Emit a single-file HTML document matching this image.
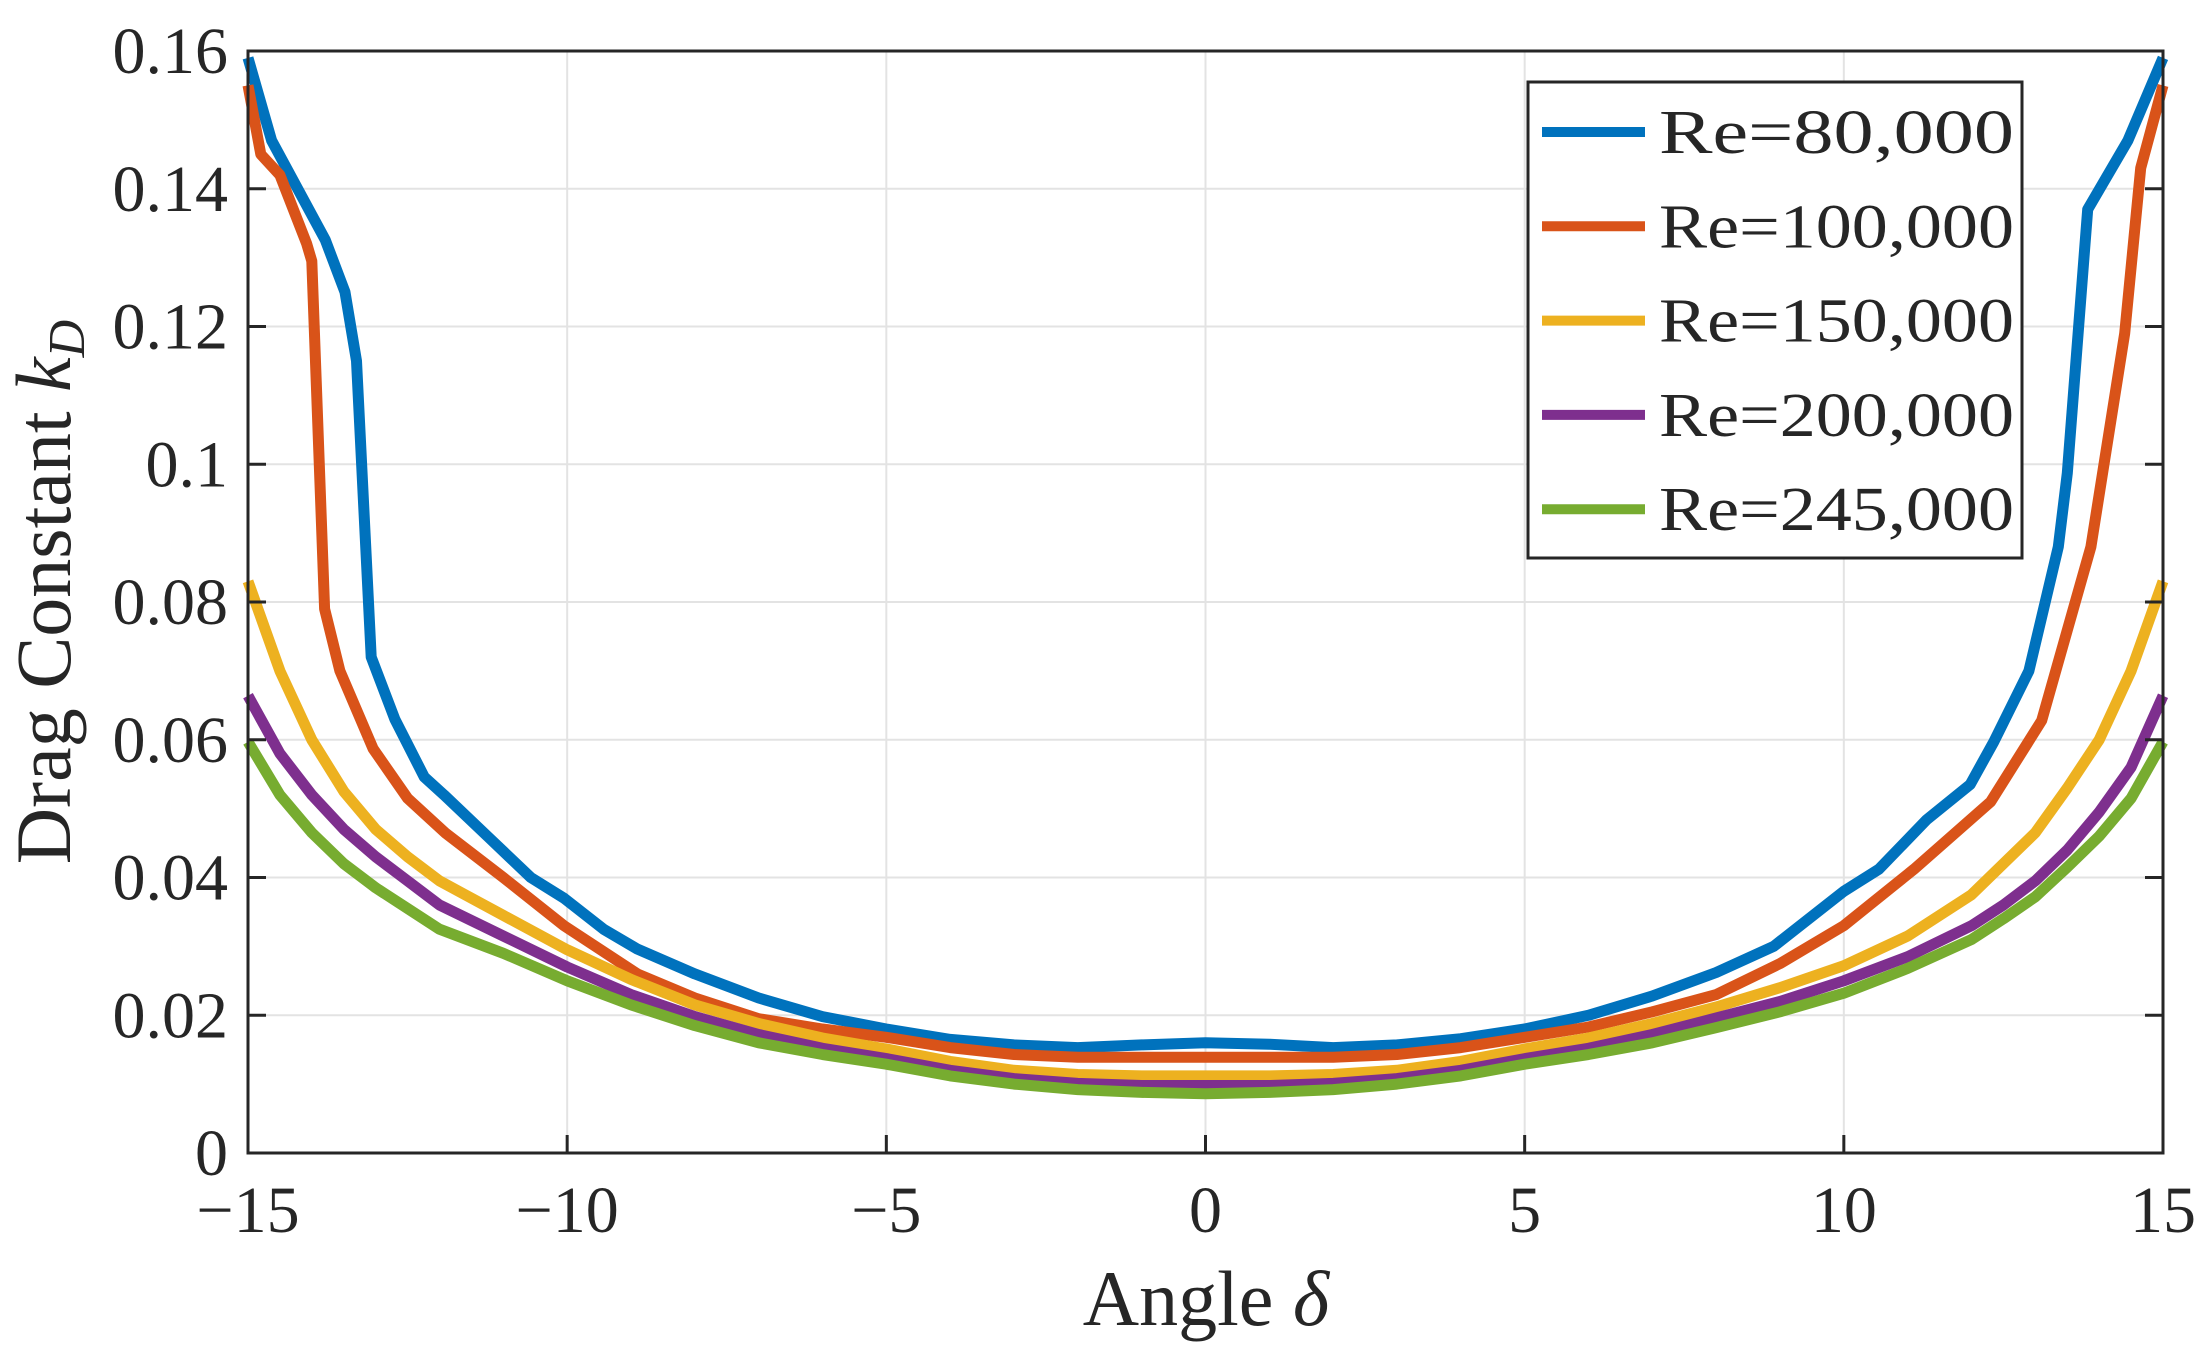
<!DOCTYPE html>
<html><head><meta charset="utf-8"><style>
html,body{margin:0;padding:0;background:#fff;}
svg{display:block;font-family:"Liberation Serif",serif;}
</style></head><body>
<svg id="chart" width="2205" height="1355" viewBox="0 0 2205 1355" xmlns="http://www.w3.org/2000/svg">
<rect width="2205" height="1355" fill="#fff"/>
<g id="grid"></g>
<g id="series"></g>
<g id="axes"></g>
<g id="legend"></g>
<text x="1206" y="1325" font-size="78" text-anchor="middle" fill="#262626">Angle <tspan font-style="italic">δ</tspan></text>
<text transform="translate(70,592) rotate(-90)" font-size="78" text-anchor="middle" fill="#262626">Drag Constant <tspan font-style="italic">k</tspan><tspan font-style="italic" font-size="52" dy="14">D</tspan></text>
</svg>
<script>
const xTicks=[-15,-10,-5,0,5,10,15];
const xTickLabels=["\u221215","\u221210","\u22125","0","5","10","15"];
const yTicks=[0,0.02,0.04,0.06,0.08,0.1,0.12,0.14,0.16];
const yTickLabels=["0","0.02","0.04","0.06","0.08","0.1","0.12","0.14","0.16"];
const seriesNames=["Re=80,000","Re=100,000","Re=150,000","Re=200,000","Re=245,000"];
const colors=["#0072BD","#D95319","#EDB120","#7E2F8E","#77AC30"];
const x80=[-15,-14.63,-13.79,-13.48,-13.3,-13.07,-12.7,-12.24,-11.93,-11.25,-10.57,-10.05,-9.43,-8.9,-8,-7,-6,-5,-4,-3,-2,-1,0,1,2,3,4,5,6,7,8,8.9,10,10.55,11.3,11.98,12.35,12.9,13.36,13.5,13.82,14.45,15];
const y80=[0.159,0.147,0.1326,0.125,0.115,0.072,0.063,0.0546,0.052,0.046,0.040,0.037,0.0325,0.0296,0.026,0.0225,0.0198,0.018,0.0165,0.0157,0.0153,0.0157,0.016,0.0158,0.0153,0.0157,0.0166,0.0180,0.0200,0.0228,0.0262,0.0300,0.038,0.0412,0.0484,0.0535,0.0597,0.070,0.088,0.0987,0.137,0.147,0.159];
const x100=[-15,-14.8,-14.5,-14.08,-14.0,-13.8,-13.56,-13.04,-12.5,-11.9,-11.0,-10.05,-8.9,-8,-7,-6,-5,-4,-3,-2,-1,0,1,2,3,4,5,6,7,8,9,10,11.1,12.3,13.1,13.87,14.4,14.65,15];
const y100=[0.155,0.145,0.142,0.132,0.1295,0.079,0.070,0.0587,0.0515,0.0464,0.040,0.033,0.026,0.0225,0.0195,0.018,0.0168,0.0153,0.0143,0.0139,0.0139,0.0139,0.0139,0.0139,0.0143,0.0153,0.0168,0.0183,0.0205,0.023,0.0275,0.033,0.0412,0.051,0.0628,0.088,0.119,0.143,0.155];
const xSmooth=[-15,-14.5,-14,-13.5,-13,-12.5,-12,-11,-10,-9,-8,-7,-6,-5,-4,-3,-2,-1,0,1,2,3,4,5,6,7,8,9,10,11,12,12.5,13,13.5,14,14.5,15];
const y150=[0.083,0.070,0.060,0.0525,0.047,0.043,0.0395,0.0345,0.0295,0.0252,0.0215,0.0188,0.0167,0.0151,0.0133,0.0120,0.0114,0.0112,0.0112,0.0112,0.0114,0.0120,0.0133,0.0151,0.0167,0.0188,0.0212,0.0240,0.0272,0.0315,0.0375,0.0420,0.0465,0.0530,0.0600,0.0700,0.083];
const y200=[0.0664,0.058,0.052,0.047,0.043,0.0395,0.036,0.0315,0.027,0.023,0.0198,0.0172,0.0152,0.0137,0.0120,0.0108,0.0101,0.0098,0.0098,0.0098,0.0101,0.0108,0.0120,0.0137,0.0152,0.0172,0.0196,0.0220,0.0250,0.0285,0.0330,0.0360,0.0395,0.0440,0.0495,0.0560,0.0664];
const y245=[0.0597,0.052,0.0465,0.042,0.0385,0.0355,0.0325,0.029,0.025,0.0215,0.0185,0.016,0.0143,0.0129,0.0112,0.0100,0.0092,0.0088,0.0086,0.0088,0.0092,0.0100,0.0112,0.0129,0.0143,0.0160,0.0182,0.0205,0.0232,0.0268,0.0310,0.0340,0.0372,0.0415,0.0460,0.0515,0.0597];
const seriesX=[x80,x100,xSmooth,xSmooth,xSmooth];
const seriesY=[y80,y100,y150,y200,y245];

const L=248,R=2163,T=51,B=1153;
const xs=v=>L+(v+15)/30*(R-L);
const ys=v=>B-v/0.16*(B-T);
const NS="http://www.w3.org/2000/svg";
function mk(tag,attrs,parent){const e=document.createElementNS(NS,tag);for(const k in attrs)e.setAttribute(k,attrs[k]);parent.appendChild(e);return e;}
const grid=document.getElementById('grid'),axes=document.getElementById('axes'),ser=document.getElementById('series'),leg=document.getElementById('legend');
xTicks.forEach((t,i)=>{
  const g=mk('line',{x1:xs(t),x2:xs(t),y1:T,y2:B,stroke:'#e3e3e3','stroke-width':2},grid);
  
  
  const tk=mk('line',{x1:xs(t),x2:xs(t),y1:B,y2:B-18,stroke:'#262626','stroke-width':3},axes);
  
  
  const lb=mk('text',{x:xs(t),y:1232,'font-size':66,'text-anchor':'middle',fill:'#262626'},axes);
  lb.textContent=xTickLabels[i];
  
  
});
yTicks.forEach((t,i)=>{
  const g=mk('line',{x1:L,x2:R,y1:ys(t),y2:ys(t),stroke:'#e3e3e3','stroke-width':2},grid);
  
  
  const tk=mk('line',{x1:L,x2:L+18,y1:ys(t),y2:ys(t),stroke:'#262626','stroke-width':3},axes);
  
  
  const tk2=mk('line',{x1:R,x2:R-18,y1:ys(t),y2:ys(t),stroke:'#262626','stroke-width':3},axes);
  
  
  const lb=mk('text',{x:228,y:ys(t)+22,'font-size':66,'text-anchor':'end',fill:'#262626'},axes);
  lb.textContent=yTickLabels[i];
  
  
});
const frame=mk('rect',{x:L,y:T,width:R-L,height:B-T,fill:'none',stroke:'#262626','stroke-width':3},axes);


seriesY.forEach((ys_,i)=>{
  const xa=seriesX[i];
  const d=ys_.map((v,j)=>(j?'L':'M')+xs(xa[j]).toFixed(1)+' '+ys(v).toFixed(1)).join(' ');
  const p=mk('path',{d:d,fill:'none',stroke:colors[i],'stroke-width':11,'stroke-linejoin':'round'},ser);
  
  
});
const lbox=mk('rect',{x:1528,y:82,width:494,height:476,fill:'#fff',stroke:'#262626','stroke-width':3},leg);


seriesNames.forEach((n,i)=>{
  const cy=132+i*94.3;
  const ln=mk('line',{x1:1542,x2:1645,y1:cy,y2:cy,stroke:colors[i],'stroke-width':10},leg);
  
  
  const tx=mk('text',{x:1659,y:cy+21,'font-size':62,fill:'#262626',textLength:355,lengthAdjust:'spacingAndGlyphs'},leg);
  tx.textContent=n;
  
  
});
</script>
</body></html>
